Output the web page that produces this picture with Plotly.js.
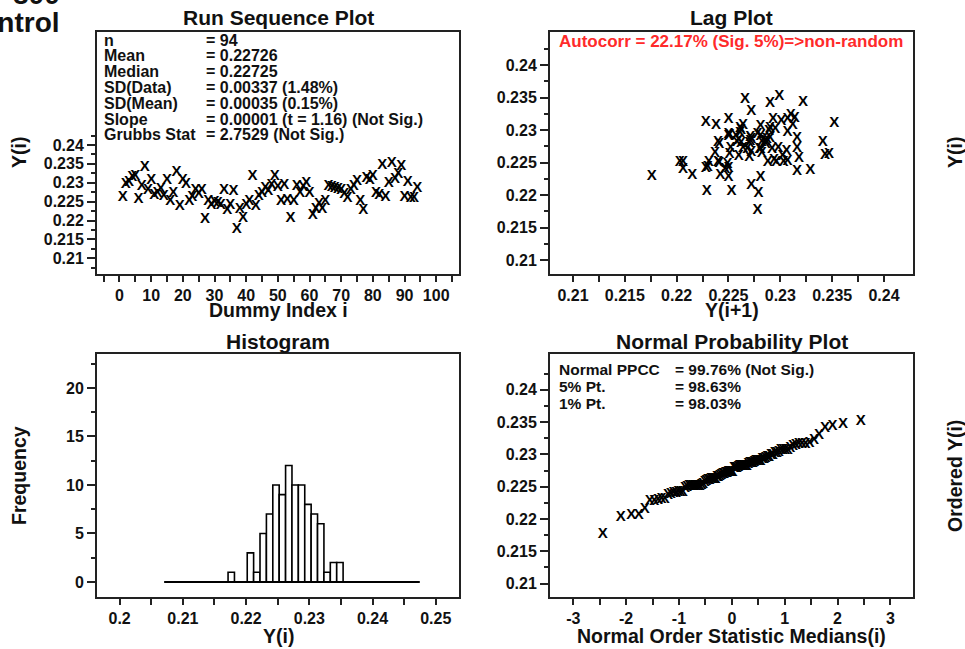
<!DOCTYPE html>
<html><head><meta charset="utf-8">
<script src="https://cdn.plot.ly/plotly-3.0.1.min.js"></script>
<style>body{margin:0;background:#fff}#chart{width:965px;height:649px}</style>
</head><body><div id="chart"></div>
<script>
// ---- data ----
const values = [
0.2261,0.2295,0.2301,0.2314,0.2318,0.2257,0.2290,0.2341,0.2281,0.2306,
0.2268,0.2271,0.2282,0.2264,0.2307,0.2252,0.2272,0.2329,0.2238,0.2307,
0.2296,0.2251,0.2262,0.2280,0.2270,0.2279,0.2203,0.2250,0.2241,0.2249,
0.2247,0.2240,0.2281,0.2228,0.2241,0.2278,0.2176,0.2229,0.2206,0.2240,
0.2250,0.2316,0.2237,0.2264,0.2272,0.2286,0.2278,0.2293,0.2316,0.2288,
0.2250,0.2294,0.2253,0.2206,0.2251,0.2292,0.2271,0.2289,0.2298,0.2272,
0.2215,0.2230,0.2242,0.2231,0.2250,0.2290,0.2287,0.2286,0.2282,0.2281,
0.2270,0.2258,0.2281,0.2290,0.2303,0.2250,0.2228,0.2312,0.2307,0.2316,
0.2272,0.2266,0.2347,0.2262,0.2299,0.2352,0.2310,0.2322,0.2343,0.2261,
0.2302,0.2260,0.2260,0.2285];
const statMean = 0.22726;
const statSD = 0.00337;

const statLabels = ["n","Mean","Median","SD(Data)","SD(Mean)","Slope","Grubbs Stat"];
const statValues = ["= 94","= 0.22726","= 0.22725","= 0.00337 (1.48%)","= 0.00035 (0.15%)","= 0.00001 (t = 1.16) (Not Sig.)","= 2.7529 (Not Sig.)"];
const lagText = "Autocorr = 22.17% (Sig. 5%)=>non-random";
const ppccLabels = ["Normal PPCC","5% Pt.","1% Pt."];
const ppccValues = ["= 99.76% (Not Sig.)","= 98.63%","= 98.03%"];

const yTicks = [0.21,0.215,0.22,0.225,0.23,0.235,0.24];
const yTickText = ["0.21","0.215","0.22","0.225","0.23","0.235","0.24"];
const yMinor = [0.2075,0.2125,0.2175,0.2225,0.2275,0.2325,0.2375,0.2425];
const runXTicks = [0,10,20,30,40,50,60,70,80,90,100];
const runXMinor = [-5,5,15,25,35,45,55,65,75,85,95,105];
const histXTicks = [0.2,0.21,0.22,0.23,0.24,0.25];
const histXTickText = ["0.2","0.21","0.22","0.23","0.24","0.25"];
const histXMinor = [0.205,0.215,0.225,0.235,0.245];
const histYTicks = [0,5,10,15,20];
const histYMinor = [2.5,7.5,12.5,17.5,22.5];
const nppXTicks = [-3,-2,-1,0,1,2,3];
const nppXTickText = ["-3","-2","-1","0","1","2","3"];
const nppXMinor = [-2.5,-1.5,-0.5,0.5,1.5,2.5];
const lagXMinor = [0.2125,0.2175,0.2225,0.2275,0.2325,0.2375];

// ---- derived ----
const n = values.length;
const idx = values.map((v,i)=>i+1);
const lagX = values.slice(0,n-1);
const lagY = values.slice(1);
const sorted = values.slice().sort((a,b)=>a-b);
function invNorm(p){
  const a=[-3.969683028665376e+01,2.209460984245205e+02,-2.759285104469687e+02,1.383577518672690e+02,-3.066479806614716e+01,2.506628277459239e+00];
  const b=[-5.447609879822406e+01,1.615858368580409e+02,-1.556989798598866e+02,6.680131188771972e+01,-1.328068155288572e+01];
  const c=[-7.784894002430293e-03,-3.223964580411365e-01,-2.400758277161838e+00,-2.549732539343734e+00,4.374664141464968e+00,2.938163982698783e+00];
  const d=[7.784695709041462e-03,3.224671290700398e-01,2.445134137142996e+00,3.754408661907416e+00];
  const pl=0.02425;
  let q,r;
  if(p<pl){q=Math.sqrt(-2*Math.log(p));return (((((c[0]*q+c[1])*q+c[2])*q+c[3])*q+c[4])*q+c[5])/((((d[0]*q+d[1])*q+d[2])*q+d[3])*q+1);}
  if(p>1-pl){q=Math.sqrt(-2*Math.log(1-p));return -(((((c[0]*q+c[1])*q+c[2])*q+c[3])*q+c[4])*q+c[5])/((((d[0]*q+d[1])*q+d[2])*q+d[3])*q+1);}
  q=p-0.5;r=q*q;
  return (((((a[0]*r+a[1])*r+a[2])*r+a[3])*r+a[4])*r+a[5])*q/(((((b[0]*r+b[1])*r+b[2])*r+b[3])*r+b[4])*r+1);
}
const medians = sorted.map((v,i)=>{
  let m;
  if(i===0) m = 1-Math.pow(0.5,1/n);
  else if(i===n-1) m = Math.pow(0.5,1/n);
  else m = (i+1-0.3175)/(n+0.365);
  return invNorm(m);
});
const binSize = 0.3*statSD;
const binStart = statMean - 10*binSize;

// ---- layout helpers ----
const W=965,H=649;
const fx = x=>x/W, fy = y=>1-y/H;
const BOX='#222', TXT='#111';
const FAM = 'Liberation Sans, Arial, sans-serif';
const tickFont = {family:FAM, size:16, color:TXT, weight:'bold'};
function axis(extra){
  return Object.assign({showline:true, mirror:true, linewidth:2, linecolor:BOX,
    ticks:'outside', tickwidth:2, tickcolor:BOX, showgrid:false, zeroline:false,
    tickfont:tickFont, tickmode:'array', fixedrange:true}, extra);
}
function ann(text,x,y,o){
  return Object.assign({text:text, x:fx(x), y:fy(y), xref:'paper', yref:'paper', showarrow:false,
    xanchor:'left', yanchor:'middle',
    font:{family:FAM, size:16, color:TXT, weight:'bold'}}, o||{});
}
const xMark = {mode:'text', text:'X', textposition:'middle center',
  textfont:{family:FAM, size:15, color:'#000', weight:'bold'}, hoverinfo:'skip', showlegend:false};

const traces = [
  Object.assign({x:idx, y:values, xaxis:'x', yaxis:'y'}, xMark),
  Object.assign({x:lagX, y:lagY, xaxis:'x2', yaxis:'y2'}, xMark),
  {type:'histogram', x:values, xaxis:'x3', yaxis:'y3',
   xbins:{start:binStart, end:binStart+19*binSize, size:binSize},
   marker:{color:'#fff', line:{color:'#000', width:1.6}}, hoverinfo:'skip', showlegend:false},
  {x:[statMean-6*statSD, statMean+6*statSD], y:[0,0], mode:'lines', xaxis:'x3', yaxis:'y3',
   line:{color:'#000', width:2}, hoverinfo:'skip', showlegend:false},
  Object.assign({x:medians, y:sorted, xaxis:'x4', yaxis:'y4'}, xMark)
];

const dL=[fx(97),fx(459)], dR=[fx(550),fx(913)];
const dT=[fy(274),fy(32)], dB=[fy(597),fy(354)];

const annotations = [];
const titleFont = {family:FAM, size:21, color:TXT, weight:'bold'};
const axFont = {family:FAM, size:19.5, color:TXT, weight:'bold'};
annotations.push(ann('Run Sequence Plot',278,18,{xanchor:'center',font:titleFont}));
annotations.push(ann('Lag Plot',731.5,18,{xanchor:'center',font:titleFont}));
annotations.push(ann('Histogram',278,341,{xanchor:'center',font:titleFont}));
annotations.push(ann('Normal Probability Plot',731.5,341,{xanchor:'center',font:titleFont}));
annotations.push(ann('Dummy Index i',278,310,{xanchor:'center',font:axFont}));
annotations.push(ann('Y(i+1)',731.5,310,{xanchor:'center',font:axFont}));
annotations.push(ann('Y(i)',278,636,{xanchor:'center',font:axFont}));
annotations.push(ann('Normal Order Statistic Medians(i)',731.5,636,{xanchor:'center',font:axFont}));
annotations.push(ann('Y(i)',19,153,{xanchor:'center',textangle:-90,font:axFont}));
annotations.push(ann('Frequency',19,476,{xanchor:'center',textangle:-90,font:axFont}));
annotations.push(ann('Y(i)',955,153,{xanchor:'center',textangle:-90,font:axFont}));
annotations.push(ann('Ordered Y(i)',955,476,{xanchor:'center',textangle:-90,font:axFont}));
annotations.push(ann('Control',62,22,{xanchor:'right',font:{family:FAM,size:28,color:TXT,weight:'bold'}}));
annotations.push(ann('800',62,-6,{xanchor:'right',font:{family:FAM,size:28,color:TXT,weight:'bold'}}));
statLabels.forEach((t,k)=>{
  annotations.push(ann(t,101.5,40+k*15.83));
  annotations.push(ann(statValues[k],204,40+k*15.83));
});
annotations.push(ann(lagText,556.5,41.5,{font:{family:FAM,size:17,color:'#ff2a2a',weight:'bold'}}));
ppccLabels.forEach((t,k)=>{
  annotations.push(ann(t,556.5,369.5+k*17,{font:{family:FAM,size:15.5,color:TXT,weight:'bold'}}));
  annotations.push(ann(ppccValues[k],672.5,369.5+k*17,{font:{family:FAM,size:15.5,color:TXT,weight:'bold'}}));
});

const yMajor = {tickvals:yTicks, ticktext:yTickText, ticklen:8, minor:{tickvals:yMinor, ticklen:4, tickwidth:2, tickcolor:BOX, ticks:'outside'}};
const layout = {
  width:W, height:H, margin:{l:0,r:0,t:0,b:0}, paper_bgcolor:'#fff', plot_bgcolor:'#fff',
  showlegend:false, bargap:0,
  xaxis: axis({domain:dL, anchor:'y', range:[-7.1,107.2], tickvals:runXTicks, ticktext:runXTicks.map(String), ticklen:6,
    minor:{tickvals:runXMinor, ticklen:6, tickwidth:2, tickcolor:BOX, ticks:'outside'}}),
  yaxis: axis(Object.assign({domain:dT, anchor:'x', range:[0.20584,0.26992]}, yMajor)),
  xaxis2: axis({domain:dR, anchor:'y2', range:[0.20778,0.2428], tickvals:yTicks, ticktext:yTickText, ticklen:6,
    minor:{tickvals:lagXMinor, ticklen:6, tickwidth:2, tickcolor:BOX, ticks:'outside'}}),
  yaxis2: axis(Object.assign({domain:dT, anchor:'x2', range:[0.20785,0.24508]}, yMajor)),
  xaxis3: axis({domain:dL, anchor:'y3', range:[0.19642,0.25368], tickvals:histXTicks, ticktext:histXTickText, ticklen:6,
    minor:{tickvals:histXMinor, ticklen:6, tickwidth:2, tickcolor:BOX, ticks:'outside'}}),
  yaxis3: axis({domain:dB, anchor:'x3', range:[-1.55,23.5], tickvals:histYTicks, ticktext:histYTicks.map(String), ticklen:8,
    minor:{tickvals:histYMinor, ticklen:4, tickwidth:2, tickcolor:BOX, ticks:'outside'}}),
  xaxis4: axis({domain:dR, anchor:'y4', range:[-3.44,3.427], tickvals:nppXTicks, ticktext:nppXTickText, ticklen:6,
    minor:{tickvals:nppXMinor, ticklen:6, tickwidth:2, tickcolor:BOX, ticks:'outside'}}),
  yaxis4: axis(Object.assign({domain:dB, anchor:'x4', range:[0.20792,0.24554]}, yMajor)),
  annotations: annotations
};
Plotly.newPlot('chart', traces, layout, {staticPlot:true, displayModeBar:false});
</script>
</body></html>
